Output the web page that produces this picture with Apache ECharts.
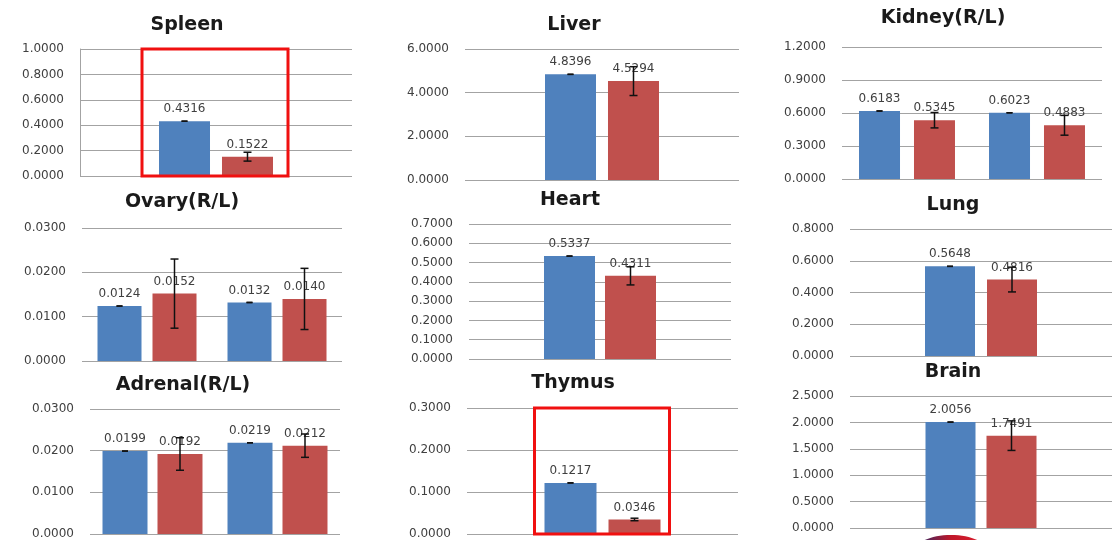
<!DOCTYPE html>
<html><head><meta charset="utf-8">
<script src="https://cdn.jsdelivr.net/npm/echarts/dist/echarts.min.js"></script>
<style>html,body{margin:0;padding:0;background:#fff}#c{width:1112px;height:540px}</style>
</head><body><div id="c"></div>
<script>
// ---------- DATA ----------
const panelTitles = ['Spleen','Liver','Kidney(R/L)','Ovary(R/L)','Heart','Lung','Adrenal(R/L)','Thymus','Brain'];

const spleenCats = ['Spleen'];
const spleenBlue = [0.4316];
const spleenRed = [0.1522];
const spleenRedErr = [0.035];

const liverCats = ['Liver'];
const liverBlue = [4.8396];
const liverRed = [4.5294];
const liverRedErr = [0.66];

const kidneyCats = ['R','L'];
const kidneyBlue = [0.6183, 0.6023];
const kidneyRed = [0.5345, 0.4883];
const kidneyRedErr = [0.07, 0.09];

const ovaryCats = ['R','L'];
const ovaryBlue = [0.0124, 0.0132];
const ovaryRed = [0.0152, 0.0140];
const ovaryRedErr = [0.0078, 0.0069];

const heartCats = ['Heart'];
const heartBlue = [0.5337];
const heartRed = [0.4311];
const heartRedErr = [0.047];

const lungCats = ['Lung'];
const lungBlue = [0.5648];
const lungRed = [0.4816];
const lungRedErr = [0.078];

const adrenalCats = ['R','L'];
const adrenalBlue = [0.0199, 0.0219];
const adrenalRed = [0.0192, 0.0212];
const adrenalRedErr = [0.0039, 0.0028];

const thymusCats = ['Thymus'];
const thymusBlue = [0.1217];
const thymusRed = [0.0346];
const thymusRedErr = [0.003];

const brainCats = ['Brain'];
const brainBlue = [2.0056];
const brainRed = [1.7491];
const brainRedErr = [0.28];

// y-axis ranges (tick labels come from these)
const yMax = [1.0, 6.0, 1.2, 0.03, 0.7, 0.8, 0.03, 0.3, 2.5];
const yStep = [0.2, 2.0, 0.3, 0.01, 0.1, 0.2, 0.01, 0.1, 0.5];

const panelData = [
  [spleenCats, spleenBlue, spleenRed, spleenRedErr],
  [liverCats, liverBlue, liverRed, liverRedErr],
  [kidneyCats, kidneyBlue, kidneyRed, kidneyRedErr],
  [ovaryCats, ovaryBlue, ovaryRed, ovaryRedErr],
  [heartCats, heartBlue, heartRed, heartRedErr],
  [lungCats, lungBlue, lungRed, lungRedErr],
  [adrenalCats, adrenalBlue, adrenalRed, adrenalRedErr],
  [thymusCats, thymusBlue, thymusRed, thymusRedErr],
  [brainCats, brainBlue, brainRed, brainRedErr]
];

// ---------- LAYOUT / STYLE ----------
const layout = [
  {left:80,  top:49,  width:272, height:127, bw:51, gap:12, tx:187, ty:25, axisLine:true, box:[17,15]},
  {left:465, top:49,  width:274, height:131, bw:51, gap:12, tx:574, ty:25},
  {left:842, top:47,  width:260, height:132, bw:41, gap:14, tx:943, ty:18},
  {left:82,  top:228, width:260, height:133, bw:44, gap:11, tx:182, ty:202},
  {left:469, top:224, width:262, height:135, bw:51, gap:10, tx:570, ty:200},
  {left:850, top:229, width:264, height:127, bw:50, gap:12, tx:953, ty:205},
  {left:90,  top:409, width:250, height:128, bw:45, gap:10, tx:183, ty:385},
  {left:467, top:408, width:271, height:131, bw:52, gap:12, tx:573, ty:383, box:[10,9]},
  {left:850, top:396, width:264, height:132, bw:50, gap:11, tx:953, ty:372}
];

const BLUE = '#4F81BD', RED = '#C0504D', GRIDC = '#a3a3a3', TXT = '#404040';
const FONT = 'DejaVu Sans';

const grids = [], xAxes = [], yAxes = [], series = [], graphics = [];

function errRenderer(p, side) {
  return function (params, api) {
    const cat = api.value(0), v = api.value(1), e = api.value(2);
    const c = api.coord([cat, v]);
    const x = c[0] + side * (p.bw + p.gap) / 2;
    const yTop = api.coord([cat, v + e])[1];
    const yBot = api.coord([cat, v - e])[1];
    const cap = e > 0 ? 4 : 3;
    const st = {stroke: '#111', lineWidth: 1.5};
    return {type: 'group', children: [
      {type: 'line', shape: {x1: x, y1: yTop, x2: x, y2: yBot}, style: st},
      {type: 'line', shape: {x1: x - cap, y1: yTop, x2: x + cap, y2: yTop}, style: st},
      {type: 'line', shape: {x1: x - cap, y1: yBot, x2: x + cap, y2: yBot}, style: st}
    ]};
  };
}

function boxRenderer(p) {
  return function (params, api) {
    const cs = params.coordSys;
    const cx = api.coord([api.value(0), 0])[0];
    const half = p.bw + p.gap / 2;
    const x0 = cx - half - p.box[0], x1 = cx + half + p.box[1];
    return {type: 'rect',
      shape: {x: x0, y: cs.y, width: x1 - x0, height: cs.height},
      style: {fill: null, stroke: '#f01010', lineWidth: 3}};
  };
}

panelData.forEach((d, i) => {
  const p = layout[i];
  const [cats, blue, red, redErr] = d;
  grids.push({left: p.left, top: p.top, width: p.width, height: p.height, containLabel: false});
  xAxes.push({type: 'category', gridIndex: i, data: cats,
    axisLine: {show: false}, axisTick: {show: false}, axisLabel: {show: false}, splitLine: {show: false}});
  yAxes.push({type: 'value', gridIndex: i, min: 0, max: yMax[i], interval: yStep[i],
    axisLine: {show: !!p.axisLine, lineStyle: {color: GRIDC, width: 1}},
    axisTick: {show: false},
    splitLine: {show: true, lineStyle: {color: GRIDC, width: 1}},
    axisLabel: {formatter: v => v.toFixed(4), color: TXT, fontSize: 12, fontFamily: FONT, margin: 16}});
  const gapPct = (p.gap / p.bw * 100).toFixed(1) + '%';
  const lbl = {show: true, position: 'top', distance: 6, color: TXT, fontSize: 12, fontFamily: FONT,
    formatter: o => o.value.toFixed(4)};
  series.push({type: 'bar', xAxisIndex: i, yAxisIndex: i, data: blue, barWidth: p.bw, barGap: gapPct,
    itemStyle: {color: BLUE}, label: lbl, z: 2});
  series.push({type: 'bar', xAxisIndex: i, yAxisIndex: i, data: red, barWidth: p.bw, barGap: gapPct,
    itemStyle: {color: RED}, label: lbl, z: 2});
  series.push({type: 'custom', xAxisIndex: i, yAxisIndex: i, z: 5,
    data: blue.map((v, k) => [k, v, 0]), renderItem: errRenderer(p, -1), silent: true});
  series.push({type: 'custom', xAxisIndex: i, yAxisIndex: i, z: 5,
    data: red.map((v, k) => [k, v, redErr[k]]), renderItem: errRenderer(p, 1), silent: true});
  if (p.box) {
    series.push({type: 'custom', xAxisIndex: i, yAxisIndex: i, z: 6, clip: false,
      data: [[0]], renderItem: boxRenderer(p), silent: true});
  }
  graphics.push({type: 'text', x: p.tx, y: p.ty,
    style: {text: panelTitles[i], fill: '#1a1a1a', font: 'bold 19px "DejaVu Sans"', align: 'center', verticalAlign: 'middle'}});
});

// logo sliver at the bottom edge
graphics.push({type: 'ellipse', shape: {cx: 951, cy: 552, rx: 37, ry: 17},
  style: {fill: new echarts.graphic.LinearGradient(0, 0, 1, 0, [{offset: 0, color: '#1c2a6e'}, {offset: 0.5, color: '#c0182a'}, {offset: 1, color: '#e02030'}])}});

const chart = echarts.init(document.getElementById('c'), null, {renderer: 'canvas'});
chart.setOption({
  animation: false,
  backgroundColor: '#ffffff',
  grid: grids, xAxis: xAxes, yAxis: yAxes, series: series, graphic: graphics
});
</script></body></html>
